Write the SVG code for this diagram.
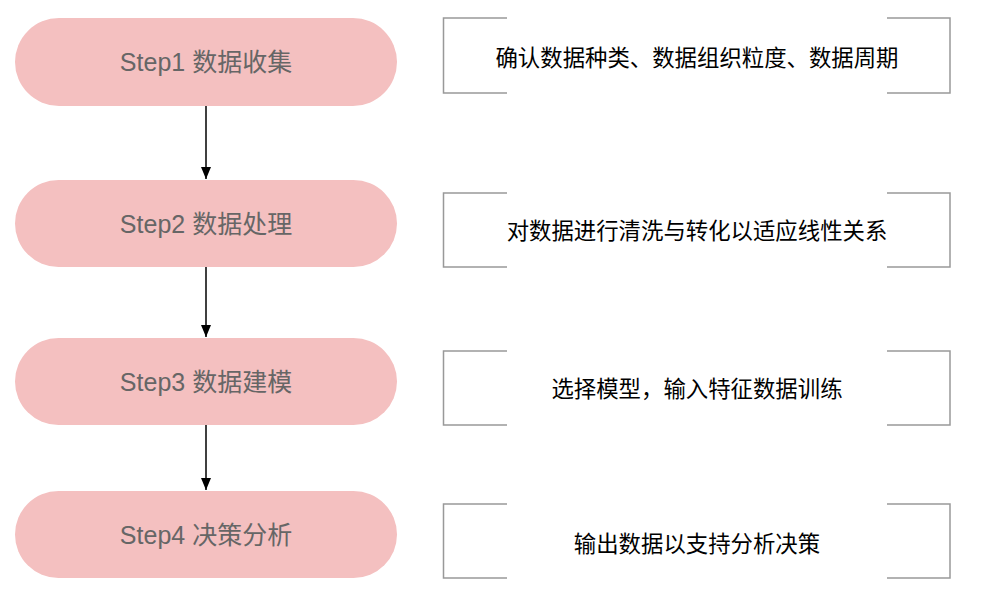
<svg xmlns="http://www.w3.org/2000/svg" width="990" height="602" viewBox="0 0 990 602">
<defs>
<style>
.pill{fill:#f4c0c0;}
.pt{font-family:"Liberation Sans","Noto Sans CJK SC",sans-serif;font-size:25px;fill:#666666;text-anchor:middle;dominant-baseline:central;}
.bt{font-family:"Noto Sans CJK SC",sans-serif;font-size:22.4px;fill:#000000;text-anchor:middle;dominant-baseline:central;}
.br{fill:none;stroke:#999999;stroke-width:1.5;}
.conn{stroke:#000000;stroke-width:1.5;fill:none;marker-end:url(#ah);}
</style>
<marker id="ah" viewBox="0 0 12 10" refX="12" refY="5" markerWidth="12" markerHeight="10" markerUnits="userSpaceOnUse" orient="auto">
<path d="M0,0 L12,5 L0,10 Z" fill="#000000"/>
</marker>
</defs>
<rect width="990" height="602" fill="#ffffff"/>
<g id="connectors">
<line class="conn" x1="206" y1="106" x2="206" y2="179"/>
<line class="conn" x1="206" y1="267" x2="206" y2="337"/>
<line class="conn" x1="206" y1="425" x2="206" y2="490"/>
</g>
<g id="step1"><rect class="pill" x="15" y="18" width="382" height="88" rx="44" ry="44"/><text class="pt" x="206" y="62">Step1 数据收集</text></g>
<g id="step2"><rect class="pill" x="15" y="180" width="382" height="87" rx="43.5" ry="43.5"/><text class="pt" x="206" y="223.5">Step2 数据处理</text></g>
<g id="step3"><rect class="pill" x="15" y="338" width="382" height="87" rx="43.5" ry="43.5"/><text class="pt" x="206" y="381.5">Step3 数据建模</text></g>
<g id="step4"><rect class="pill" x="15" y="491" width="382" height="87" rx="43.5" ry="43.5"/><text class="pt" x="206" y="534.5">Step4 决策分析</text></g>
<g id="desc1"><path class="br" d="M507,18 H443.5 V93 H507 M887,18 H950 V93 H887"/><text class="bt" x="697" y="56">确认数据种类、数据组织粒度、数据周期</text></g>
<g id="desc2"><path class="br" d="M507,193 H443.5 V267 H507 M887,193 H950 V267 H887"/><text class="bt" x="697" y="229">对数据进行清洗与转化以适应线性关系</text></g>
<g id="desc3"><path class="br" d="M507,351 H443.5 V425 H507 M887,351 H950 V425 H887"/><text class="bt" x="697" y="387">选择模型，输入特征数据训练</text></g>
<g id="desc4"><path class="br" d="M507,504 H443.5 V578 H507 M887,504 H950 V578 H887"/><text class="bt" x="697" y="542">输出数据以支持分析决策</text></g>
</svg>
